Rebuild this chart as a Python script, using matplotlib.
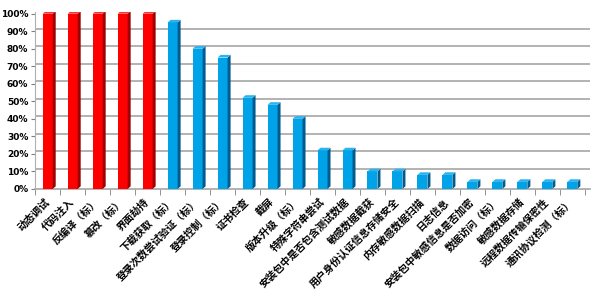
import matplotlib.pyplot as plt
from matplotlib.patches import Polygon

plt.rcParams['font.family'] = ['Noto Sans CJK SC', 'DejaVu Sans']

categories = ['动态调试', '代码注入', '反编译（标）', '篡改（标）', '界面劫持',
              '下载获取（标）', '登录次数尝试验证（标）', '登录控制（标）', '证书检查',
              '截屏', '版本升级（标）', '特殊字符串尝试', '安装包中是否包含测试数据',
              '敏感数据截获', '用户身份认证信息存储安全', '内存敏感数据扫描', '日志信息',
              '安装包中敏感信息是否加密', '数据访问（标）', '敏感数据存储',
              '远程数据传输保密性', '通讯协议检测（标）']
values = [100, 100, 100, 100, 100, 95, 80, 75, 52, 48, 40, 22, 22, 10, 10, 8, 8,
          4, 4, 4, 4, 4]
n_red = 5

fig = plt.figure(figsize=(5.97, 2.92), dpi=100)
ax = fig.add_axes([0.059, 0.353, 0.929, 0.606])

front_w = 0.4
side_w = 0.12
lift = 1.5  # depth of the 3D cap, in % units

for i, v in enumerate(values):
    if i < n_red:
        face, side, top = '#ff0000', '#a00000', '#ff3030'
    else:
        face, side, top = '#00a2e8', '#005c8f', '#2bb3f0'
    x0 = i - front_w / 2
    x1 = i + front_w / 2
    ax.bar(i, v, width=front_w, color=face, zorder=3)
    ax.add_patch(Polygon([(x1, 0), (x1 + side_w, lift), (x1 + side_w, v + lift), (x1, v)],
                         closed=True, facecolor=side, edgecolor='none', zorder=3))
    ax.add_patch(Polygon([(x0, v), (x0 + side_w, v + lift), (x1 + side_w, v + lift), (x1, v)],
                         closed=True, facecolor=top, edgecolor='none', zorder=3))

ax.set_xlim(-0.5, len(values) - 0.3)
ax.set_ylim(0, 101)
ax.set_yticks(range(0, 101, 10))
ax.set_yticklabels([f'{t}%' for t in range(0, 101, 10)], fontsize=6.5, fontweight='bold',
                   family='DejaVu Sans')
for t in range(10, 101, 10):
    ax.axhline(t + lift, color='#a6a6a6', lw=1.2, zorder=1)

ax.set_xticks(range(len(values)))
ax.set_xticklabels(categories, rotation=45, ha='right', va='center',
                   rotation_mode='anchor', fontsize=7.3, fontweight='bold')
ax.set_xticks([i + 0.5 for i in range(-1, len(values))], minor=True)
ax.tick_params(axis='x', which='major', length=0, pad=8)
ax.tick_params(axis='x', which='minor', length=4, color='#808080')
ax.tick_params(axis='y', length=3, color='#808080', pad=2)

for s in ['top', 'right']:
    ax.spines[s].set_visible(False)
ax.spines['left'].set_color('#b0b0b0')
ax.spines['bottom'].set_color('#a6a6a6')
ax.spines['bottom'].set_linewidth(1.2)

fig.savefig('out.png', dpi=100)
